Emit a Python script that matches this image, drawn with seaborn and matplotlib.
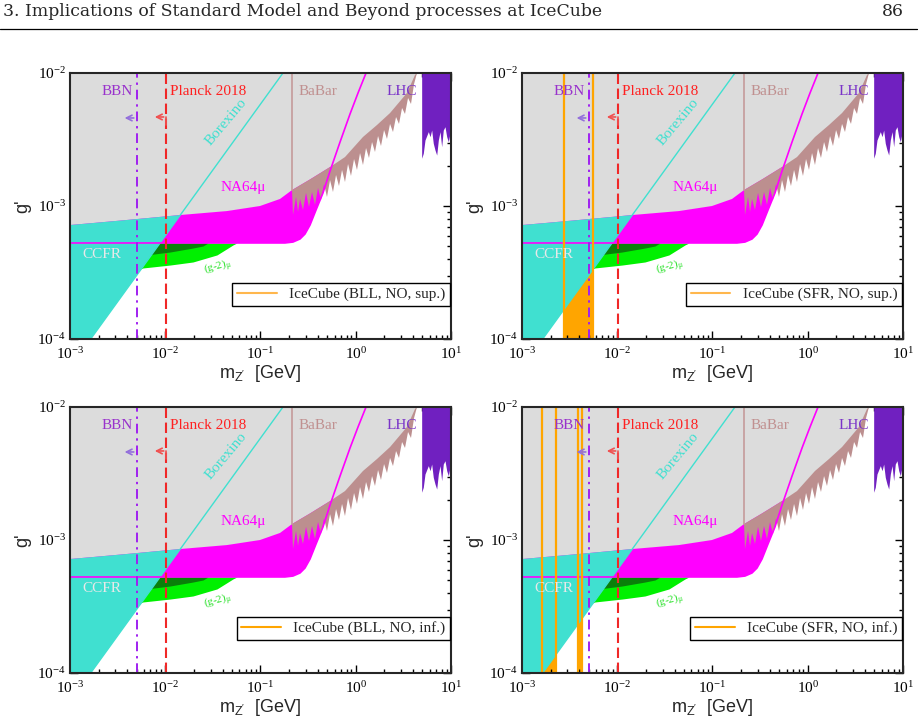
import numpy as np
import matplotlib
matplotlib.use("Agg")
import matplotlib.pyplot as plt
import seaborn as sns
from matplotlib.lines import Line2D
from matplotlib.ticker import NullFormatter

# lower edge of the grey (total) excluded region, NA64mu top and BaBar top
gray_logm = [-3.000, -2.759, -2.402, -1.845, -1.352, -1.005, -0.795, -0.669, -0.480,
             -0.270, -0.113, 0.076, 0.223, 0.360, 0.538, 0.622, 0.643]
gray_logg = [-3.143, -3.128, -3.105, -3.068, -3.038, -3.000, -2.947, -2.880, -2.800,
             -2.707, -2.632, -2.481, -2.391, -2.301, -2.150, -2.015, -2.000]

# NA64mu lower boundary (thin magenta line)
na64_logm = [-3.0, -0.743, -0.659, -0.585, -0.533, -0.480, -0.417, -0.344, -0.270,
             -0.165, -0.060, 0.024, 0.108]
na64_logg = [-3.278, -3.278, -3.271, -3.248, -3.211, -3.143, -3.030, -2.902, -2.737,
             -2.519, -2.308, -2.150, -2.000]

# Borexino line
borex_logm = [-2.783, -0.764]
borex_logg = [-4.0, -2.0]

# CCFR (turquoise) region outline
ccfr_logm = [-3.0, -2.783, -1.845, -2.402, -2.759, -3.0]
ccfr_logg = [-4.0, -4.0, -3.068, -3.105, -3.128, -3.143]

# (g-2)_mu bands, lower edges (upper edge is the NA64 plateau)
g2_light_logm = [-2.286, -2.234, -1.950, -1.709, -1.457, -1.289, -1.247]
g2_light_logg = [-3.481, -3.466, -3.444, -3.421, -3.368, -3.293, -3.278]
g2_dark_logm = [-2.181, -2.118, -1.950, -1.709, -1.604, -1.551]
g2_dark_logg = [-3.368, -3.361, -3.346, -3.316, -3.301, -3.278]
g2_top_logg = -3.278

# BaBar jagged lower edge
babar_logm = [-0.669, -0.659, -0.627, -0.606, -0.585, -0.554, -0.522, -0.491, -0.459, -0.428,
              -0.396, -0.365, -0.333, -0.302, -0.270, -0.239, -0.207, -0.176, -0.144, -0.113,
              -0.081, -0.050, -0.018, 0.013, 0.045, 0.076, 0.108, 0.139, 0.171, 0.202,
              0.234, 0.265, 0.297, 0.328, 0.360, 0.391, 0.423, 0.454, 0.486, 0.517,
              0.549, 0.580, 0.612, 0.643]
babar_logg = [-2.880, -3.068, -2.932, -3.045, -2.947, -3.030, -2.902, -3.008, -2.895, -2.992,
              -2.865, -2.955, -2.835, -2.932, -2.805, -2.895, -2.767, -2.850, -2.729, -2.820,
              -2.684, -2.774, -2.647, -2.729, -2.602, -2.692, -2.564, -2.639, -2.519, -2.594,
              -2.474, -2.549, -2.429, -2.496, -2.383, -2.444, -2.331, -2.383, -2.263, -2.308,
              -2.188, -2.233, -2.083, -2.000]
babar_line_logm = -0.669

# LHC region lower edge
lhc_logm = [0.692, 0.709, 0.727, 0.762, 0.780, 0.797, 0.814, 0.832, 0.850, 0.867,
            0.885, 0.902, 0.919, 0.937, 0.955, 0.972, 1.0]
lhc_logg = [-2.641, -2.604, -2.504, -2.441, -2.479, -2.429, -2.529, -2.579, -2.617, -2.504,
            -2.441, -2.554, -2.429, -2.404, -2.479, -2.517, -2.414]

bbn_m = 5.0e-3
planck_m = 1.03e-2

# IceCube bands (log10 m edges) per panel
panels = [
    ("IceCube (BLL, NO, sup.)", []),
    ("IceCube (SFR, NO, sup.)", [(-2.559, -2.258)]),
    ("IceCube (BLL, NO, inf.)", []),
    ("IceCube (SFR, NO, inf.)", [(-2.793, -2.643), (-2.415, -2.367)]),
]

header = "3. Implications of Standard Model and Beyond processes at IceCube"
page_no = "86"

sns.set_style("ticks")
plt.rcParams["font.family"] = ["Liberation Serif", "DejaVu Serif"]
plt.rcParams["mathtext.default"] = "regular"


def p10(a):
    return 10 ** np.asarray(a, dtype=float)


def draw_panel(ax, legend_text, bands, leg_color):
    ax.set_xscale("log")
    ax.set_yscale("log")

    orange = "#ffa500"
    for lo, hi in bands:
        ax.axvspan(10 ** lo, 10 ** hi, color=orange, lw=0, zorder=0.5)

    # grey excluded region
    ax.fill_between(p10(gray_logm), p10(gray_logg), 1e-2, color="#dcdcdc", lw=0, zorder=1)

    # NA64mu fill
    na_m = np.array(na64_logm)
    gr_m = np.array(gray_logm)
    sel_na = na_m <= -0.27 + 1e-9
    sel_gr = gr_m <= -0.27 + 1e-9
    poly_m = np.concatenate([na_m[sel_na], gr_m[sel_gr][::-1]])
    poly_g = np.concatenate([np.array(na64_logg)[sel_na], np.array(gray_logg)[sel_gr][::-1]])
    ax.fill(p10(poly_m), p10(poly_g), color="#ff00ff", lw=0, zorder=2)

    # (g-2)_mu
    ax.fill_between(p10(g2_light_logm), p10(g2_light_logg), 10 ** g2_top_logg,
                    color="#00f000", lw=0, zorder=3)
    ax.fill_between(p10(g2_dark_logm), p10(g2_dark_logg), 10 ** g2_top_logg,
                    color="#0a800a", lw=0, zorder=3.1)

    # BaBar
    sel_b = gr_m >= babar_line_logm - 1e-9
    bm = np.concatenate([babar_logm, gr_m[sel_b][::-1]])
    bg = np.concatenate([babar_logg, np.array(gray_logg)[sel_b][::-1]])
    ax.fill(p10(bm), p10(bg), color="#bc8f8f", lw=0, zorder=4)

    # LHC
    ax.fill_between(p10(lhc_logm), p10(lhc_logg), 1e-2, color="#7020c0", lw=0, zorder=4)

    # CCFR
    ax.fill(p10(ccfr_logm), p10(ccfr_logg), color="#40e0d0", lw=0, zorder=5)

    # lines
    sns.lineplot(x=p10(borex_logm), y=p10(borex_logg), ax=ax, color="#40e0d0", lw=1.0, zorder=6)
    sns.lineplot(x=p10(na64_logm), y=p10(na64_logg), ax=ax, color="#ff00ff", lw=1.2, zorder=6)
    ax.plot([10 ** babar_line_logm] * 2, [10 ** gray_logg[7], 1e-2], color="#c49a9a", lw=1.2, zorder=6)

    for lo, hi in bands:
        for v in (lo, hi):
            ax.axvline(10 ** v, color=orange, lw=1.6, zorder=7)

    ax.axvline(bbn_m, color="#a020f0", lw=1.4, ls=(0, (5, 2.5, 1.2, 2.5)), zorder=8)
    ax.axvline(planck_m, color="#f02828", lw=1.5, ls=(0, (5, 2.2)), zorder=8)

    # arrows
    ax.annotate("", xy=(3.5e-3, 4.59e-3), xytext=(bbn_m, 4.59e-3),
                arrowprops=dict(arrowstyle="->", color="#9370db", lw=1.2), zorder=9)
    ax.annotate("", xy=(7.26e-3, 4.67e-3), xytext=(planck_m, 4.67e-3),
                arrowprops=dict(arrowstyle="->", color="#f05050", lw=1.2), zorder=9)
    ax.plot([planck_m, planck_m], [4.67e-3, 4.07e-3], color="#f05050", lw=1.2, zorder=9)

    # labels
    tkw = dict(transform=ax.transAxes, ha="center", va="center", fontsize=11, zorder=10)
    ax.text(0.125, 0.932, "BBN", color="#9932cc", **tkw)
    ax.text(0.362, 0.932, "Planck 2018", color="#ff2020", **tkw)
    ax.text(0.651, 0.932, "BaBar", color="#c09090", **tkw)
    ax.text(0.870, 0.932, "LHC", color="#7a33c8", **tkw)
    ax.text(0.455, 0.571, "NA64\u03bc", color="#ff00ff", **tkw)
    ax.text(0.084, 0.316, "CCFR", color="#e8e8e8", **tkw)
    ax.text(0.41, 0.815, "Borexino", color="#40e0d0", rotation=50, **tkw)
    tkw2 = dict(tkw, fontsize=8)
    ax.text(0.389, 0.272, "(g-2)$_{\u03bc}$", color="#22e022", rotation=14, **tkw2)

    ax.set_xlim(1e-3, 10)
    ax.set_ylim(1e-4, 1e-2)
    ax.tick_params(which="both", direction="in", top=True, right=True, width=1.0,
                   labelsize=11, colors="black")
    ax.tick_params(axis="x", which="both", pad=5)
    ax.tick_params(axis="y", which="both", pad=3)
    ax.tick_params(which="major", length=6)
    ax.tick_params(which="minor", length=3)
    ax.xaxis.set_minor_formatter(NullFormatter())
    ax.yaxis.set_minor_formatter(NullFormatter())
    for s in ax.spines.values():
        s.set_linewidth(1.5)
        s.set_zorder(15)

    ax.set_xlabel("m$_{Z'}$  [GeV]", fontfamily="Liberation Sans", fontsize=13, labelpad=1)
    ax.set_ylabel("g'", fontfamily="Liberation Sans", fontsize=13, labelpad=4)

    h = Line2D([], [], color=leg_color, lw=1.5)
    leg = ax.legend([h], [legend_text], loc="lower right", bbox_to_anchor=(0.997, 0.125),
                    frameon=True, fancybox=False, edgecolor="black", framealpha=1,
                    fontsize=11, handlelength=2.6, borderpad=0.3, borderaxespad=0,
                    handletextpad=0.8)
    leg.get_frame().set_linewidth(1.0)
    leg.set_zorder(20)


fig = plt.figure(figsize=(9.2, 7.25), dpi=100)
W, H = 920.0, 725.0
rects = [
    [70 / W, (H - 339) / H, 381 / W, 266 / H],
    [522 / W, (H - 339) / H, 381 / W, 266 / H],
    [70 / W, (H - 673) / H, 381 / W, 266 / H],
    [522 / W, (H - 673) / H, 381 / W, 266 / H],
]
for rect, (lab, bands) in zip(rects, panels):
    ax = fig.add_axes(rect)
    col = "#ffb74d" if "sup." in lab else "#ffa500"
    draw_panel(ax, lab, bands, col)

fig.text(3 / W, 1 - 11 / H, header, ha="left", va="center", fontsize=12.4, family="DejaVu Serif")
fig.text(904 / W, 1 - 11 / H, page_no, ha="right", va="center", fontsize=12.4, family="DejaVu Serif")
fig.add_artist(Line2D([0, 917 / W], [1 - 29 / H] * 2, color="black", lw=0.9,
                      transform=fig.transFigure))

fig.savefig("out.png", dpi=100)
